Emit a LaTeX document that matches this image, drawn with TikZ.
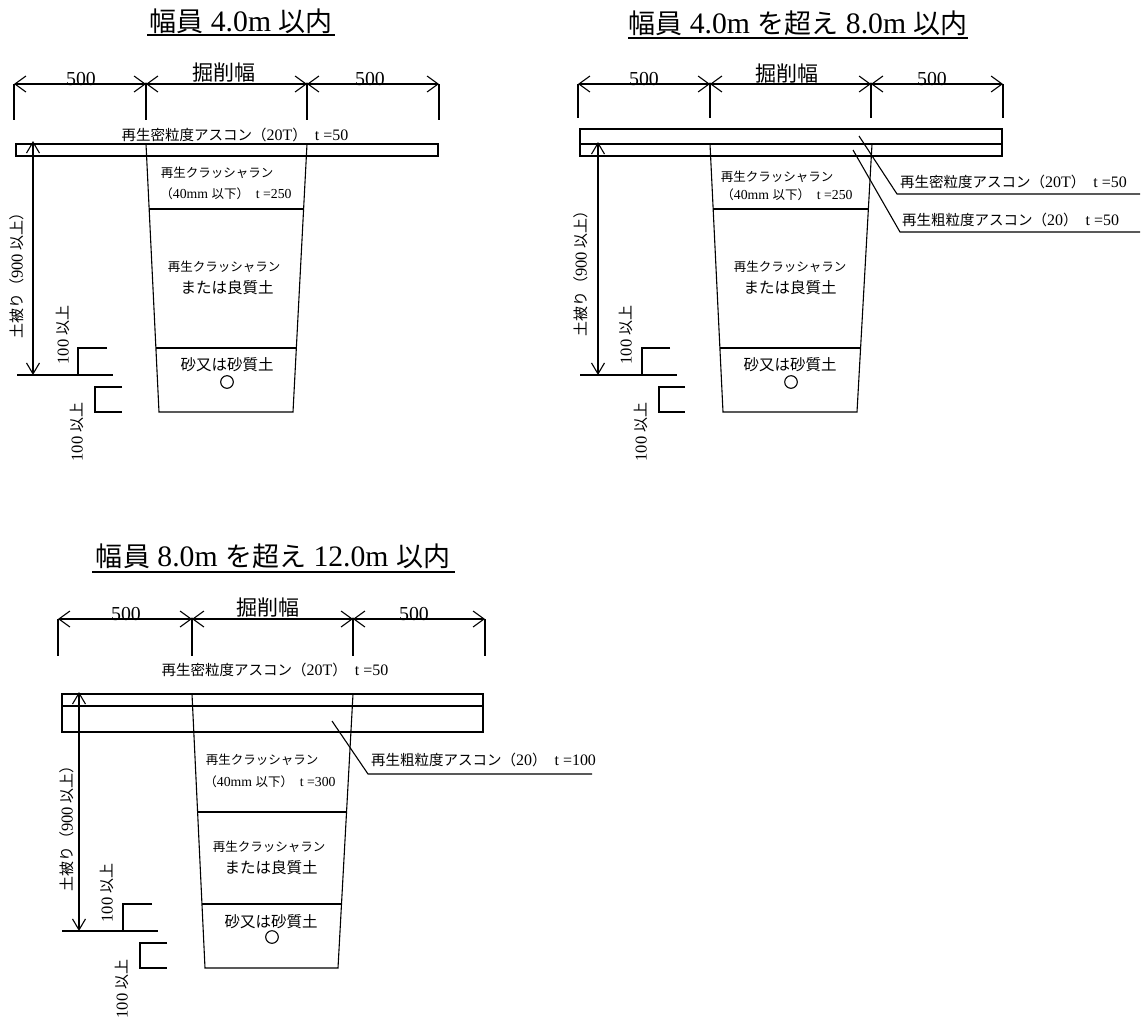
\documentclass[tikz,border=0pt]{standalone}
\usepackage{fontspec}
\setmainfont{Liberation Serif}[Scale=1.1]
\newfontfamily\jp{Noto Sans CJK JP}
\usetikzlibrary{arrows.meta}
\begin{document}
\begin{tikzpicture}[x=1pt,y=-1pt,
  ln/.style={line width=1.1pt},
  uline/.style={line width=2.4pt},
  dimarr/.style={line width=1.1pt,{Straight Barb[length=11pt,width=16pt]}-{Straight Barb[length=11pt,width=16pt]}},
  vtarr/.style={line width=1.1pt,{Straight Barb[length=11pt,width=13pt]}-{Straight Barb[length=11pt,width=13pt]}},
  ttl/.style={inner sep=0pt,font=\fontsize{27}{31}\selectfont},
  dimlbl/.style={inner sep=0pt,font=\fontsize{18}{22}\selectfont},
  cutlbl/.style={inner sep=0pt,font=\fontsize{21}{25}\selectfont},
  lbl/.style={inner sep=0pt,font=\fontsize{14.5}{17}\selectfont},
  sm/.style={inner sep=0pt,font=\fontsize{12.5}{15}\selectfont},
  md/.style={inner sep=0pt,font=\fontsize{15.5}{18}\selectfont},
  rot/.style={inner sep=0pt,rotate=90,font=\fontsize{15}{18}\selectfont},
  pipe/.style={line width=1.1pt}
]
\useasboundingbox (0,0) rectangle (1142,1023);

% ================= Diagram 1 =================
\node[ttl] (t1) at (241,21) {{\jp 幅員} 4.0m {\jp 以内}};
\coordinate (t1u) at (147,35); \coordinate (t1v) at (335,35);
\draw[uline] (t1u) -- (t1v);
\coordinate (a1) at (14,84); \coordinate (b1) at (146,84);
\coordinate (c1) at (307,84); \coordinate (e1) at (439,84);
\draw[dimarr] (a1) -- (b1);
\draw[dimarr] (b1) -- (c1);
\draw[dimarr] (c1) -- (e1);
\foreach \p in {a1,b1,c1,e1} \draw[ln] (\p) -- ++(0,36);
\fill (b1) circle (1.6); \fill (c1) circle (1.6);
\node[dimlbl,anchor=base] (l1a) at (81,85) {500};
\node[cutlbl] (l1b) at (224,73) {\jp 掘削幅};
\node[dimlbl,anchor=base] (l1c) at (370,85) {500};
\node[lbl] (as1) at (235,135) {{\jp 再生密粒度アスコン（}20T{\jp ）}\ \ t =50};
\draw[ln] (16,144) rectangle (438,156);
\coordinate (tl1) at (146,144); \coordinate (bl1) at (159,412);
\coordinate (br1) at (293,412); \coordinate (tr1) at (307,144);
\draw[ln] (tl1) -- (bl1) -- (br1) -- (tr1);
\draw[ln] (149.2,209) -- (303.6,209);
\draw[ln] (155.9,348) -- (296.3,348);
\node[sm] (k1a) at (217,173) {\jp 再生クラッシャラン};
\node[sm] (k1b) at (226,194) {{\jp （}40mm {\jp 以下）}\ \ t =250};
\node[sm] (k1c) at (224,267) {\jp 再生クラッシャラン};
\node[md] (k1d) at (227,288) {\jp または良質土};
\node[md] (k1e) at (227,365) {\jp 砂又は砂質土};
\node[pipe,draw,circle,minimum size=12.6pt,inner sep=0pt] (p1) at (227,382) {};
\coordinate (v1t) at (33,141); \coordinate (v1b) at (33,375);
\draw[vtarr] (v1t) -- (v1b);
\coordinate (g1a) at (17,375); \coordinate (g1b) at (113,375);
\draw[ln] (g1a) -- (g1b);
\draw[ln] (107,348) -- (78,348) -- (78,375);
\draw[ln] (122,387) -- (95,387) -- (95,412) -- (122,412);
\node[rot] (r1a) at (17,272) {{\jp 土被り（}900 {\jp 以上）}};
\node[rot] (r1b) at (63,335) {100 {\jp 以上}};
\node[rot] (r1c) at (77,432) {100 {\jp 以上}};

% ================= Diagram 2 =================
\node[ttl] (t2) at (798,23) {{\jp 幅員} 4.0m {\jp を超え} 8.0m {\jp 以内}};
\coordinate (t2u) at (628,38); \coordinate (t2v) at (968,38);
\draw[uline] (t2u) -- (t2v);
\coordinate (a2) at (578,84); \coordinate (b2) at (710,84);
\coordinate (c2) at (871,84); \coordinate (e2) at (1003,84);
\draw[dimarr] (a2) -- (b2);
\draw[dimarr] (b2) -- (c2);
\draw[dimarr] (c2) -- (e2);
\foreach \p in {a2,b2,c2,e2} \draw[ln] (\p) -- ++(0,34);
\fill (b2) circle (1.6); \fill (c2) circle (1.6);
\node[dimlbl,anchor=base] (l2a) at (644,85) {500};
\node[cutlbl] (l2b) at (787,74) {\jp 掘削幅};
\node[dimlbl,anchor=base] (l2c) at (932,85) {500};
\draw[ln] (580,129) rectangle (1002,156);
\draw[ln] (580,144) -- (1002,144);
\coordinate (tl2) at (710,144); \coordinate (bl2) at (723,412);
\coordinate (br2) at (857,412); \coordinate (tr2) at (872,144);
\draw[ln] (tl2) -- (bl2) -- (br2) -- (tr2);
\draw[ln] (713.2,209) -- (868.4,209);
\draw[ln] (719.9,348) -- (860.6,348);
\node[sm] (k2a) at (777,177) {\jp 再生クラッシャラン};
\node[sm] (k2b) at (787,195) {{\jp （}40mm {\jp 以下）}\ \ t =250};
\node[sm] (k2c) at (790,267) {\jp 再生クラッシャラン};
\node[md] (k2d) at (790,288) {\jp または良質土};
\node[md] (k2e) at (790,365) {\jp 砂又は砂質土};
\node[pipe,draw,circle,minimum size=12.6pt,inner sep=0pt] (p2) at (791,382) {};
% leaders
\coordinate (q2a) at (859,136); \coordinate (q2b) at (897,194); \coordinate (q2c) at (1140,194);
\draw[ln] (q2a) -- (q2b) -- (q2c);
\node[lbl,anchor=west] (as2a) at (900,182) {{\jp 再生密粒度アスコン（}20T{\jp ）}\ \ t =50};
\coordinate (q2d) at (853,150); \coordinate (q2e) at (900,232); \coordinate (q2f) at (1140,232);
\draw[ln] (q2d) -- (q2e) -- (q2f);
\node[lbl,anchor=west] (as2b) at (902,220) {{\jp 再生粗粒度アスコン（}20{\jp ）}\ \ t =50};
\coordinate (v2t) at (598,142); \coordinate (v2b) at (598,375);
\draw[vtarr] (v2t) -- (v2b);
\coordinate (g2a) at (580,375); \coordinate (g2b) at (677,375);
\draw[ln] (g2a) -- (g2b);
\draw[ln] (670,348) -- (642,348) -- (642,375);
\draw[ln] (685,387) -- (659,387) -- (659,412) -- (685,412);
\node[rot] (r2a) at (581,270) {{\jp 土被り（}900 {\jp 以上）}};
\node[rot] (r2b) at (626,335) {100 {\jp 以上}};
\node[rot] (r2c) at (641,432) {100 {\jp 以上}};

% ================= Diagram 3 =================
\node[ttl] (t3) at (273,556) {{\jp 幅員} 8.0m {\jp を超え} 12.0m {\jp 以内}};
\coordinate (t3u) at (92,572); \coordinate (t3v) at (455,572);
\draw[uline] (t3u) -- (t3v);
\coordinate (a3) at (58,619); \coordinate (b3) at (192,619);
\coordinate (c3) at (353,619); \coordinate (e3) at (485,619);
\draw[dimarr] (a3) -- (b3);
\draw[dimarr] (b3) -- (c3);
\draw[dimarr] (c3) -- (e3);
\foreach \p in {a3,b3,c3,e3} \draw[ln] (\p) -- ++(0,37);
\fill (b3) circle (1.6); \fill (c3) circle (1.6);
\node[dimlbl,anchor=base] (l3a) at (126,620) {500};
\node[cutlbl] (l3b) at (268,608) {\jp 掘削幅};
\node[dimlbl,anchor=base] (l3c) at (414,620) {500};
\node[lbl] (as3) at (275,670) {{\jp 再生密粒度アスコン（}20T{\jp ）}\ \ t =50};
\draw[ln] (62,694) rectangle (483,732);
\draw[ln] (62,706) -- (483,706);
\coordinate (tl3) at (192,694); \coordinate (bl3) at (205,968);
\coordinate (br3) at (338,968); \coordinate (tr3) at (353,694);
\draw[ln] (tl3) -- (bl3) -- (br3) -- (tr3);
\draw[ln] (197.6,812) -- (346.5,812);
\draw[ln] (202,904) -- (341.5,904);
\node[sm] (k3a) at (262,760) {\jp 再生クラッシャラン};
\node[sm] (k3b) at (270,782) {{\jp （}40mm {\jp 以下）}\ \ t =300};
\node[sm] (k3c) at (269,847) {\jp 再生クラッシャラン};
\node[md] (k3d) at (271,868) {\jp または良質土};
\node[md] (k3e) at (271,922) {\jp 砂又は砂質土};
\node[pipe,draw,circle,minimum size=12.6pt,inner sep=0pt] (p3) at (272,937) {};
\coordinate (q3a) at (332,721); \coordinate (q3b) at (368,774); \coordinate (q3c) at (592,774);
\draw[ln] (q3a) -- (q3b) -- (q3c);
\node[lbl,anchor=west] (as3b) at (371,760) {{\jp 再生粗粒度アスコン（}20{\jp ）}\ \ t =100};
\coordinate (v3t) at (79,692); \coordinate (v3b) at (79,931);
\draw[vtarr] (v3t) -- (v3b);
\coordinate (g3a) at (62,931); \coordinate (g3b) at (158,931);
\draw[ln] (g3a) -- (g3b);
\draw[ln] (152,904) -- (123,904) -- (123,931);
\draw[ln] (167,943) -- (140,943) -- (140,968) -- (167,968);
\node[rot] (r3a) at (67,825) {{\jp 土被り（}900 {\jp 以上）}};
\node[rot] (r3b) at (107,893) {100 {\jp 以上}};
\node[rot] (r3c) at (122,989) {100 {\jp 以上}};
\end{tikzpicture}
\end{document}
